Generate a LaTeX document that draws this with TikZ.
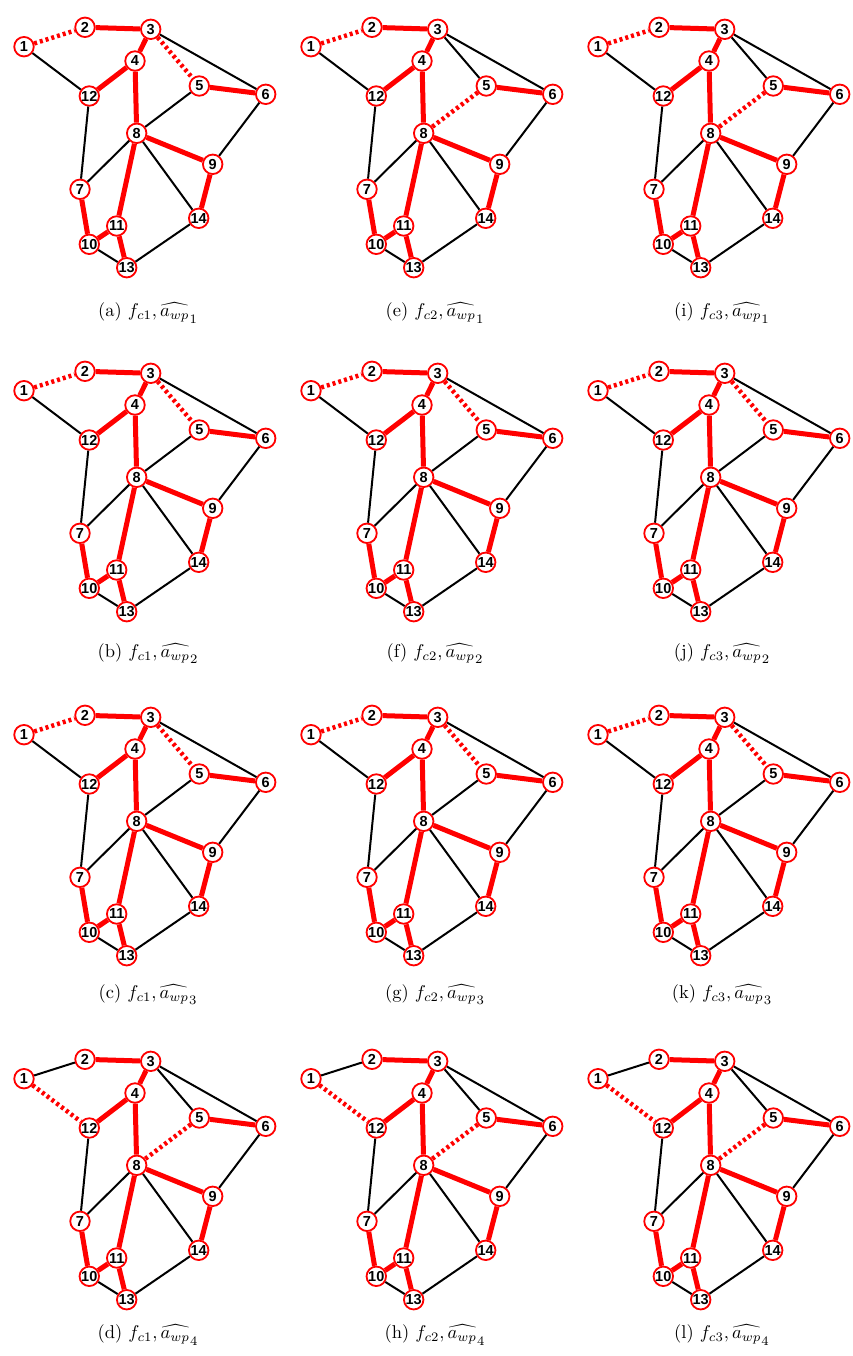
\documentclass[tikz,border=0pt]{standalone}
\usepackage{fontspec}
\newfontfamily\busfont{Liberation Sans}
\usetikzlibrary{positioning}
\tikzset{
    bus/.style={circle, draw=red, line width=1.8pt, fill=white, inner sep=0pt, minimum size=19.5pt, font=\busfont\bfseries\fontsize{14.5}{15}\selectfont},
    tieline/.style={black, line width=2pt},
    hotline/.style={red, line width=5pt},
    dotline/.style={red, line width=4.5pt, dash pattern=on 3pt off 3pt},
    subcap/.style={scale=1.85}
}
% one network case: prefix, column, row, styles of 1-2, 1-12, 3-5, 5-8, caption
\newcommand{\casegraph}[8]{%
    \begin{scope}[shift={(287*#2,344*#3)}]
        \node [bus] (#1-1) at (24,46.7) {1};
        \node [bus] (#1-2) at (85,27.3) {2};
        \node [bus] (#1-3) at (150.7,29.3) {3};
        \node [bus] (#1-4) at (135,61) {4};
        \node [bus] (#1-5) at (199.3,86) {5};
        \node [bus] (#1-6) at (265.7,94.3) {6};
        \node [bus] (#1-12) at (89.3,96) {12};
        \node [bus] (#1-8) at (136.7,133.3) {8};
        \node [bus] (#1-9) at (212.7,164.3) {9};
        \node [bus] (#1-7) at (80,189.3) {7};
        \node [bus] (#1-14) at (198.7,218.3) {14};
        \node [bus] (#1-11) at (116.7,226) {11};
        \node [bus] (#1-10) at (89.3,244.3) {10};
        \node [bus] (#1-13) at (126.7,267.7) {13};
        \draw [hotline] (#1-2) -- (#1-3);
        \draw [hotline] (#1-3) -- (#1-4);
        \draw [hotline] (#1-4) -- (#1-12);
        \draw [hotline] (#1-4) -- (#1-8);
        \draw [hotline] (#1-5) -- (#1-6);
        \draw [hotline] (#1-8) -- (#1-9);
        \draw [hotline] (#1-8) -- (#1-11);
        \draw [hotline] (#1-9) -- (#1-14);
        \draw [hotline] (#1-7) -- (#1-10);
        \draw [hotline] (#1-10) -- (#1-11);
        \draw [hotline] (#1-11) -- (#1-13);
        \draw [tieline] (#1-3) -- (#1-6);
        \draw [tieline] (#1-6) -- (#1-9);
        \draw [tieline] (#1-12) -- (#1-7);
        \draw [tieline] (#1-8) -- (#1-7);
        \draw [tieline] (#1-8) -- (#1-14);
        \draw [tieline] (#1-10) -- (#1-13);
        \draw [tieline] (#1-13) -- (#1-14);
        \draw [#4] (#1-1) -- (#1-2);
        \draw [#5] (#1-1) -- (#1-12);
        \draw [#6] (#1-3) -- (#1-5);
        \draw [#7] (#1-5) -- (#1-8);
        \node [subcap] (#1-cap) at (148,313-3.3*#3) {#8};
    \end{scope}}

\begin{document}
\begin{tikzpicture}[x=1pt, y=-1pt]
    \useasboundingbox (0,0) rectangle (853,1356);
    \casegraph{a}{0}{0}{dotline}{tieline}{dotline}{tieline}{(a) $f_{c1}, \widehat{a_{wp}}_1$}
    \casegraph{b}{0}{1}{dotline}{tieline}{dotline}{tieline}{(b) $f_{c1}, \widehat{a_{wp}}_2$}
    \casegraph{c}{0}{2}{dotline}{tieline}{dotline}{tieline}{(c) $f_{c1}, \widehat{a_{wp}}_3$}
    \casegraph{d}{0}{3}{tieline}{dotline}{tieline}{dotline}{(d) $f_{c1}, \widehat{a_{wp}}_4$}
    \casegraph{e}{1}{0}{dotline}{tieline}{tieline}{dotline}{(e) $f_{c2}, \widehat{a_{wp}}_1$}
    \casegraph{f}{1}{1}{dotline}{tieline}{dotline}{tieline}{(f) $f_{c2}, \widehat{a_{wp}}_2$}
    \casegraph{g}{1}{2}{dotline}{tieline}{dotline}{tieline}{(g) $f_{c2}, \widehat{a_{wp}}_3$}
    \casegraph{h}{1}{3}{tieline}{dotline}{tieline}{dotline}{(h) $f_{c2}, \widehat{a_{wp}}_4$}
    \casegraph{i}{2}{0}{dotline}{tieline}{tieline}{dotline}{(i) $f_{c3}, \widehat{a_{wp}}_1$}
    \casegraph{j}{2}{1}{dotline}{tieline}{dotline}{tieline}{(j) $f_{c3}, \widehat{a_{wp}}_2$}
    \casegraph{k}{2}{2}{dotline}{tieline}{dotline}{tieline}{(k) $f_{c3}, \widehat{a_{wp}}_3$}
    \casegraph{l}{2}{3}{tieline}{dotline}{tieline}{dotline}{(l) $f_{c3}, \widehat{a_{wp}}_4$}
\end{tikzpicture}
\end{document}
